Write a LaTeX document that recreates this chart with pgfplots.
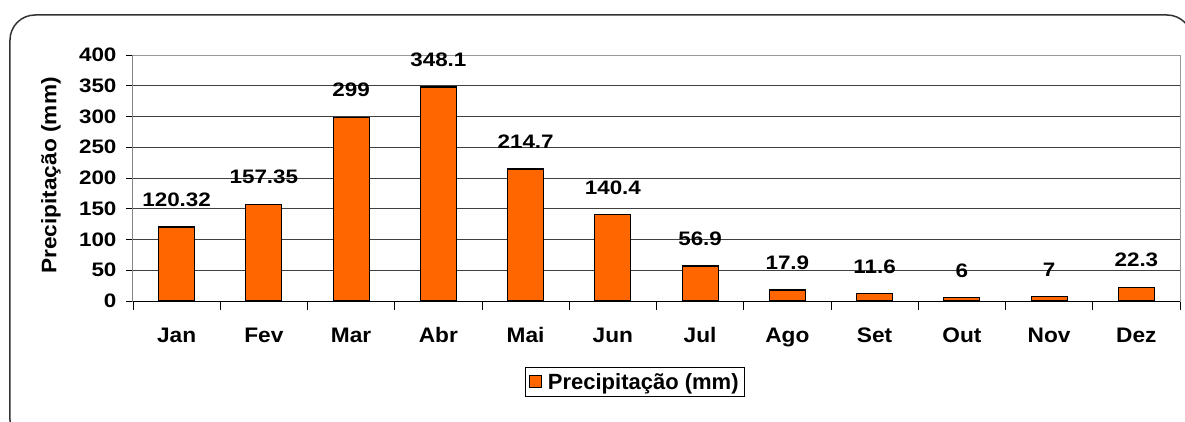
\documentclass[border=0pt]{standalone}
\usepackage{pgfplots}
\pgfplotsset{compat=1.18}
\usepackage{fontspec}
\setmainfont{Liberation Sans}
\newfontfamily\numfont{Liberation Sans}[FakeStretch=1.15]
\newfontfamily\catfont{Liberation Sans}[FakeStretch=1.08]
\definecolor{barorange}{HTML}{FF6600}
\newcommand{\lblfont}{\numfont\bfseries\fontsize{19.5}{22}\selectfont}
\newcommand{\catlblfont}{\catfont\bfseries\fontsize{21}{23}\selectfont}
\begin{document}
\begin{tikzpicture}[x=1pt,y=1pt]
\begin{axis}[
  at={(0pt,0pt)}, anchor=south west,
  scale only axis, width=1047pt, height=246pt,
  xmin=-0.5, xmax=11.5, ymin=0, ymax=400,
  ytick={0,50,...,400},
  xtick={0,...,11},
  xticklabels={Jan,Fev,Mar,Abr,Mai,Jun,Jul,Ago,Set,Out,Nov,Dez},
  minor xtick={-0.5,0.5,...,11.5},
  tick align=outside, tick pos=left,
  major tick length=7pt, minor tick length=9pt,
  major x tick style={draw=none},
  tick style={black, line width=0.8pt},
  ymajorgrids, grid style={black!75, line width=0.8pt},
  axis line style={black!40, line width=1pt},
  /pgf/number format/assume math mode=true,
  yticklabel style={anchor=east, font=\lblfont},
  yticklabel shift=6pt,
  xticklabel style={anchor=base, yshift=-34pt, font=\catlblfont},
  ylabel={Precipitação (mm)},
  every axis y label/.style={at={(axis description cs:-0.0783,0.51)}, rotate=90, anchor=center, font=\catlblfont},
  ybar, bar width=36pt,
  point meta=explicit symbolic,
  nodes near coords,
  nodes near coords style={anchor=south, inner sep=0pt, yshift=19.5pt, font=\lblfont, text=black},
  legend style={at={(axis description cs:0.4795,-0.329)}, anchor=center, draw=black, line width=0.8pt,
    font=\bfseries\fontsize{22}{24}\selectfont, inner xsep=4pt, inner ysep=4pt},
  legend image code/.code={\draw[fill=barorange,draw=black,line width=1pt] (0pt,-6pt) rectangle (12pt,6pt); \path[draw=none,fill=none] (0pt,0pt) -- (16pt,0pt);},
]
\addplot[fill=barorange, draw=black, line width=1.2pt] table[meta=lbl] {
x y lbl
0 120.32 120.32
1 157.35 157.35
2 299 299
3 348.1 348.1
4 214.7 214.7
5 140.4 140.4
6 56.9 56.9
7 17.9 17.9
8 11.6 11.6
9 6 6
10 7 7
11 22.3 22.3
};
\addlegendentry{Precipitação (mm)}
\draw[black, line width=1pt] (rel axis cs:0,1) -- (rel axis cs:0,0) -- (rel axis cs:1,0);
\end{axis}
\draw[black!80, line width=1.5pt, rounded corners=25pt] (-123,286) rectangle (1059,-144);
\pgfresetboundingbox
\useasboundingbox (-133,-120) rectangle (1052,301);
\end{tikzpicture}
\end{document}
